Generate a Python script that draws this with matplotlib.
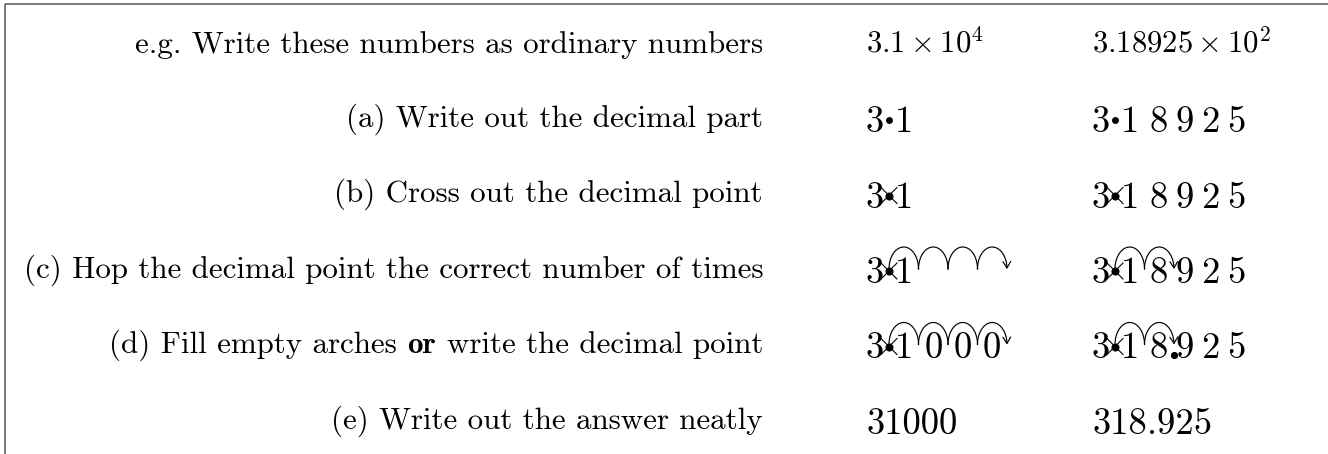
import numpy as np
import matplotlib
matplotlib.use("Agg")
import matplotlib.pyplot as plt
from matplotlib.patches import FancyArrowPatch
from matplotlib.path import Path

plt.rcParams['mathtext.fontset'] = 'cm'

# ---------------- data ----------------
step_labels = [
    [("e.g. Write these numbers as ordinary numbers", False)],
    [("(a) Write out the decimal part", False)],
    [("(b) Cross out the decimal point", False)],
    [("(c) Hop the decimal point the correct number of times", False)],
    [("(d) Fill empty arches", False), ("or", True), ("write the decimal point", False)],
    [("(e) Write out the answer neatly", False)],
]
mantissas = ["3.1", "3.18925"]
exponents = [4, 2]
answers = ["31000", "318.925"]

# ---------------- layout ----------------
W, H = 1328, 454
fig = plt.figure(figsize=(W / 100, H / 100), dpi=100)
ax = fig.add_axes([0, 0, 1, 1])
ax.set_xlim(0, W)
ax.set_ylim(H, 0)
ax.axis('off')

label_left, label_right = 22, 763
col_x = [867, 1093]
label_base = [53, 126.5, 202, 277.5, 353, 428.5]
digit_drop = 5.5
first_off = 7.5       # centre of first digit
dot_off = 22          # decimal point position
second_off = 37       # centre of the digit after the point
pitch = 26            # pitch of following digits
hop_w = 29.5          # width of one hop arc
hop_h = 22
ink = 'black'

renderer = fig.canvas.get_renderer()


def width(s, **kw):
    t = ax.text(0, 0, s, **kw)
    w = t.get_window_extent(renderer).width
    t.remove()
    return w


# fit label font size to measured width of the longest label
label_fs = 21 * (label_right - label_left) / width(step_labels[3][0][0],
                                                     fontfamily='cmr10', fontsize=21)
big_fs = 27 * 120 / width(answers[1], fontfamily='cmr10', fontsize=27)
math_fs = 21 * 118 / width(r"$%s \times 10^{%d}$" % (mantissas[0], exponents[0]),
                           fontsize=21)
space_w = (width("a a", fontfamily='cmr10', fontsize=label_fs)
           - width("aa", fontfamily='cmr10', fontsize=label_fs))

# frame
ax.plot([5, W], [3.5, 3.5], color='#555555', lw=1.1, solid_capstyle='butt')
ax.plot([5, 5], [3.5, H], color='#555555', lw=1.1, solid_capstyle='butt')

# labels (pieces placed right to left)
for segs, yb in zip(step_labels, label_base):
    x = label_right
    for txt, bold in reversed(segs):
        fam = 'cmb10' if bold else 'cmr10'
        ax.text(x, yb, txt, fontfamily=fam, fontsize=label_fs,
                ha='right', va='baseline', color=ink)
        x -= width(txt, fontfamily=fam, fontsize=label_fs) + space_w


def digit(x, yb, d):
    ax.text(x, yb, d, fontfamily='cmr10', fontsize=big_fs, ha='center',
            va='baseline', color=ink)


def hop(x0, yb, last):
    t = np.linspace(np.pi, 0, 40)
    xm = x0 + hop_w / 2
    xs = xm + hop_w / 2 * np.cos(t)
    ys = yb - hop_h * np.sin(t)
    if last:
        p = FancyArrowPatch(path=Path(np.column_stack([xs, ys])),
                            arrowstyle='->,head_length=0.45,head_width=0.28',
                            mutation_scale=10, lw=0.85, color=ink)
        ax.add_patch(p)
    else:
        ax.plot(xs, ys, color=ink, lw=0.85)


for c, (mant, ex, ans) in enumerate(zip(mantissas, exponents, answers)):
    x0 = col_x[c]
    # header
    ax.text(x0 - 1, label_base[0], r"$%s \times 10^{%d}$" % (mant, ex),
            fontsize=math_fs, ha='left', va='baseline', color=ink)
    mdig = mant.replace('.', '')
    offs = [first_off, second_off] + [second_off + 28.5 + pitch * (k - 2)
                                       for k in range(2, len(mdig))]
    for r in (1, 2, 3, 4):
        yb = label_base[r] + digit_drop
        for d, o in zip(mdig, offs):
            digit(x0 + o, yb, d)
        yd = yb - 12
        ax.plot(x0 + dot_off, yd, 'o', ms=5.0 if r == 1 else 5.8, color=ink,
                mec='none')
        if r >= 2:
            s = 8
            ax.plot([x0 + dot_off - s, x0 + dot_off + s], [yd - s, yd + s],
                    color=ink, lw=0.8)
            ax.plot([x0 + dot_off - s, x0 + dot_off + s], [yd + s, yd - s],
                    color=ink, lw=0.8)
        if r >= 3:
            for j in range(ex):
                hop(x0 + dot_off + hop_w * j, yb - 14, j == ex - 1)
        if r == 4:
            adig = ans.replace('.', '')
            for j, d in enumerate(adig[len(mdig):]):
                digit(x0 + dot_off + hop_w * (j + 1) + hop_w / 2, yb, d)
            if '.' in ans:
                ax.plot(x0 + dot_off + hop_w * ex, yb - 4, 'o', ms=5.2,
                        color=ink, mec='none')
    # answer
    ax.text(x0, label_base[5] + digit_drop, ans, fontfamily='cmr10',
            fontsize=big_fs, ha='left', va='baseline', color=ink)

fig.savefig('out.png', dpi=100, facecolor='white')
